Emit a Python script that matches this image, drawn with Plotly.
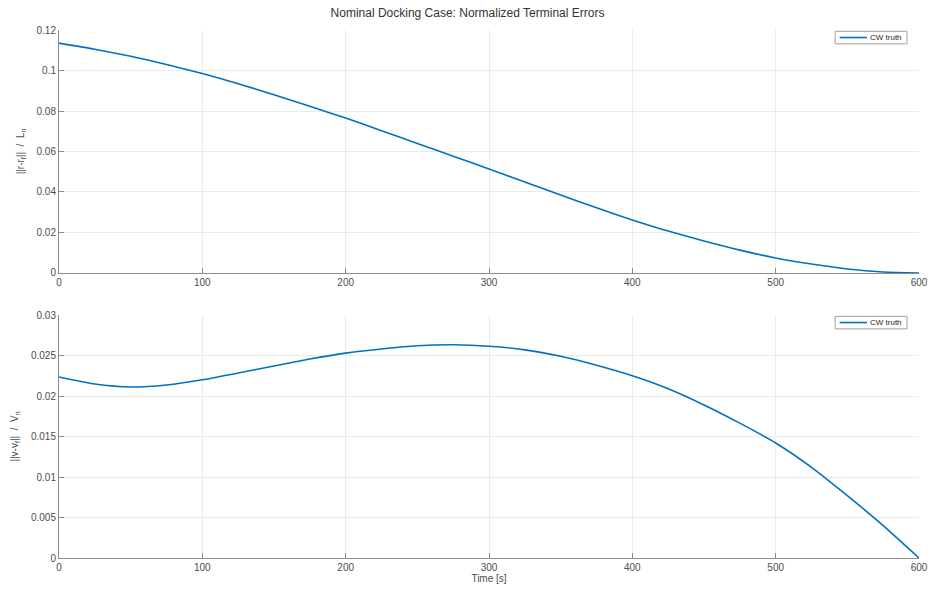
import plotly.graph_objects as go
from plotly.subplots import make_subplots

# Time samples [s]
time_s = [0, 25, 50, 75, 100, 125, 150, 175, 200, 225, 250, 275, 300,
          325, 350, 375, 400, 425, 450, 475, 500, 525, 550, 575, 600]

# Normalized position error ||r - r_f|| / L_n
pos_err = [0.1135, 0.1105, 0.1070, 0.1030, 0.0985, 0.0935, 0.0880, 0.0823,
           0.0765, 0.0703, 0.0640, 0.0577, 0.0514, 0.0449, 0.0385, 0.0322,
           0.0262, 0.0207, 0.0158, 0.0113, 0.0074, 0.0044, 0.0020, 0.0005, 0.0000]

# Normalized velocity error ||v - v_f|| / V_n
vel_err = [0.02235, 0.02148, 0.02111, 0.02136, 0.02200, 0.02284, 0.02370, 0.02457,
           0.02530, 0.02580, 0.02620, 0.02632, 0.02615, 0.02570, 0.02490, 0.02380,
           0.02250, 0.02090, 0.01890, 0.01665, 0.01420, 0.01120, 0.00770, 0.00400, 0.0000]

series_name = "CW truth"

pos_ticks = [0, 0.02, 0.04, 0.06, 0.08, 0.1, 0.12]
pos_ticktext = ["0", "0.02", "0.04", "0.06", "0.08", "0.1", "0.12"]
vel_ticks = [0, 0.005, 0.01, 0.015, 0.02, 0.025, 0.03]
vel_ticktext = ["0", "0.005", "0.01", "0.015", "0.02", "0.025", "0.03"]
time_ticks = [0, 100, 200, 300, 400, 500, 600]

line_color = "#0072BD"
axis_color = "#8c8c8c"
grid_color = "#ebebeb"
text_color = "#4d4d4d"
font_family = "Liberation Sans, Arial, sans-serif"

fig = make_subplots(rows=2, cols=1, vertical_spacing=0.0796)

fig.add_trace(go.Scatter(x=time_s, y=pos_err, mode="lines", name=series_name,
                         line=dict(color=line_color, width=1.6, shape="spline", smoothing=0.6),
                         showlegend=False), row=1, col=1)
fig.add_trace(go.Scatter(x=time_s, y=vel_err, mode="lines", name=series_name,
                         line=dict(color=line_color, width=1.6, shape="spline", smoothing=0.6),
                         showlegend=False), row=2, col=1)

axis_common = dict(showline=True, linecolor=axis_color, linewidth=1, mirror=False,
                   showgrid=True, gridcolor=grid_color, gridwidth=1,
                   ticks="inside", ticklen=5, tickcolor=axis_color,
                   tickfont=dict(size=10, color=text_color, family=font_family),
                   zeroline=False, automargin=False)

for r in (1, 2):
    fig.update_xaxes(range=[0, 600], tickvals=time_ticks, **axis_common, row=r, col=1)

fig.update_xaxes(title=dict(text="Time [s]", font=dict(size=10, color=text_color, family=font_family),
                            standoff=2), row=2, col=1)

fig.update_yaxes(range=[0, 0.12], tickvals=pos_ticks, ticktext=pos_ticktext,
                 title=dict(text="||r-r<sub>f</sub>||  /  L<sub>n</sub>",
                            font=dict(size=10, color=text_color, family=font_family), standoff=10),
                 **axis_common, row=1, col=1)
fig.update_yaxes(range=[0, 0.03], tickvals=vel_ticks, ticktext=vel_ticktext,
                 title=dict(text="||v-v<sub>f</sub>||  /  V<sub>n</sub>",
                            font=dict(size=10, color=text_color, family=font_family), standoff=10),
                 **axis_common, row=2, col=1)


def add_legend_box(fig, axis_suffix):
    """Compact MATLAB-style legend in the upper-right corner of a subplot."""
    xref = "x" + axis_suffix + " domain"
    yref = "y" + axis_suffix + " domain"
    fig.add_shape(type="rect", xref=xref, yref=yref, x0=0.9025, x1=0.9860,
                  y0=0.943, y1=0.9945, line=dict(color="#a0a0a0", width=1),
                  fillcolor="white", layer="above")
    fig.add_shape(type="line", xref=xref, yref=yref, x0=0.9077, x1=0.9395,
                  y0=0.969, y1=0.969, line=dict(color=line_color, width=1.6), layer="above")
    fig.add_annotation(xref=xref, yref=yref, x=0.9410, y=0.969, text=series_name,
                       showarrow=False, xanchor="left", yanchor="middle",
                       font=dict(size=8, color="#262626", family=font_family))


add_legend_box(fig, "")
add_legend_box(fig, "2")

fig.update_layout(
    width=935, height=591,
    paper_bgcolor="white", plot_bgcolor="white",
    margin=dict(l=59, r=16, t=30, b=33),
    title=dict(text="Nominal Docking Case: Normalized Terminal Errors",
               x=0.5, xanchor="center", y=0.985, yanchor="top",
               font=dict(size=12, color="#333333", family=font_family)),
)

fig.write_html("out.html")
